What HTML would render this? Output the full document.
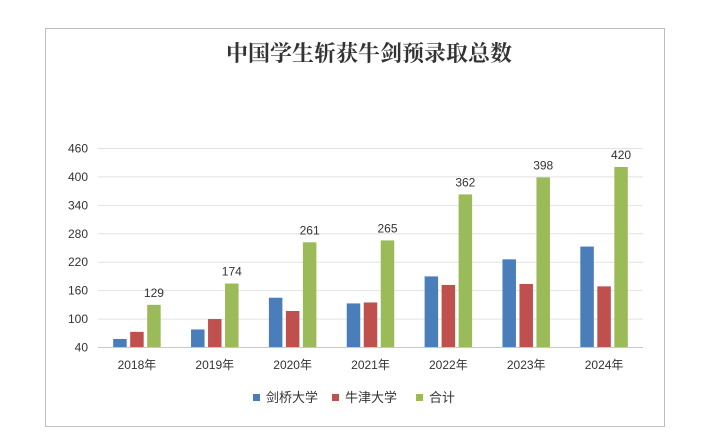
<!DOCTYPE html>
<html><head><meta charset="utf-8"><style>
body{margin:0;background:#fff;width:704px;height:444px;overflow:hidden}
svg{display:block}
text{font-family:"Liberation Sans","Noto Sans CJK SC",sans-serif}
</style></head><body>
<svg id="chart" width="704" height="444" viewBox="0 0 704 444" xmlns="http://www.w3.org/2000/svg">
<rect x="45.5" y="28.5" width="619" height="398" fill="#fff" stroke="#bdbdbd"/>
<text x="369" y="61" text-anchor="middle" font-size="22" font-weight="bold" fill="#333" style="font-family:'Liberation Serif','Noto Serif CJK SC',serif">中国学生斩获牛剑预录取总数</text>
<g id="grid"></g><g id="bars"></g><g id="labels"></g>
<g>
<rect x="253" y="394" width="7" height="7" fill="#4a7ebb"/>
<text x="266" y="402" font-size="13" fill="#333">剑桥大学</text>
<rect x="332" y="394" width="7" height="7" fill="#c0504d"/>
<text x="345" y="402" font-size="13" fill="#333">牛津大学</text>
<rect x="416" y="394" width="7" height="7" fill="#9bbb59"/>
<text x="429" y="402" font-size="13" fill="#333">合计</text>
</g>
</svg>
<script>
const categories=["2018年","2019年","2020年","2021年","2022年","2023年","2024年"];
const cambridge=[57,77,144,132,189,225,252];
const oxford=[72,99,116,134,171,173,168];
const total=[129,174,261,265,362,398,420];
const yTicks=[40,100,160,220,280,340,400,460];
const NS="http://www.w3.org/2000/svg";
const x0=98,x1=643,yBase=347,yTop=148,vMin=40,vMax=460;
const y=v=>yBase-(v-vMin)/(vMax-vMin)*(yBase-yTop);
const band=(x1-x0)/categories.length;
const cx=i=>x0+band*(i+0.5);
function mk(tag,attrs,parent){const e=document.createElementNS(NS,tag);for(const k in attrs)e.setAttribute(k,attrs[k]);parent.appendChild(e);return e;}
const grid=document.getElementById('grid'),bars=document.getElementById('bars'),labels=document.getElementById('labels');
yTicks.forEach(t=>{
 const l=mk('line',{x1:x0,x2:x1,y1:y(t)+0.5,y2:y(t)+0.5,stroke:t===vMin?'#c8c8c8':'#e2e2e2'},grid);
 
 
 const tx=mk('text',{x:88,y:y(t)+4.5,'text-anchor':'end','font-size':12,fill:'#333'},grid);
 tx.textContent=t;
 
 
});
const series=[[cambridge,'#4a7ebb','bar-cambridge'],[oxford,'#c0504d','bar-oxford'],[total,'#9bbb59','bar-total']];
const bw=13.5,gap=3.5;
categories.forEach((c,i)=>{
 series.forEach(([arr,col,name],s)=>{
  const bx=cx(i)+(s-1)*(bw+gap)-bw/2;
  const r=mk('rect',{x:bx,y:y(arr[i]),width:bw,height:yBase-y(arr[i]),fill:col},bars);
  
  
  if(s===2){
   const v=mk('text',{x:bx+bw/2,y:y(arr[i])-8,'text-anchor':'middle','font-size':12,fill:'#333'},labels);
   v.textContent=arr[i];
   
   
  }
 });
 const t=mk('text',{x:cx(i),y:369,'text-anchor':'middle','font-size':12,fill:'#333'},labels);
 t.textContent=c;
 
 
});
</script>
</body></html>
